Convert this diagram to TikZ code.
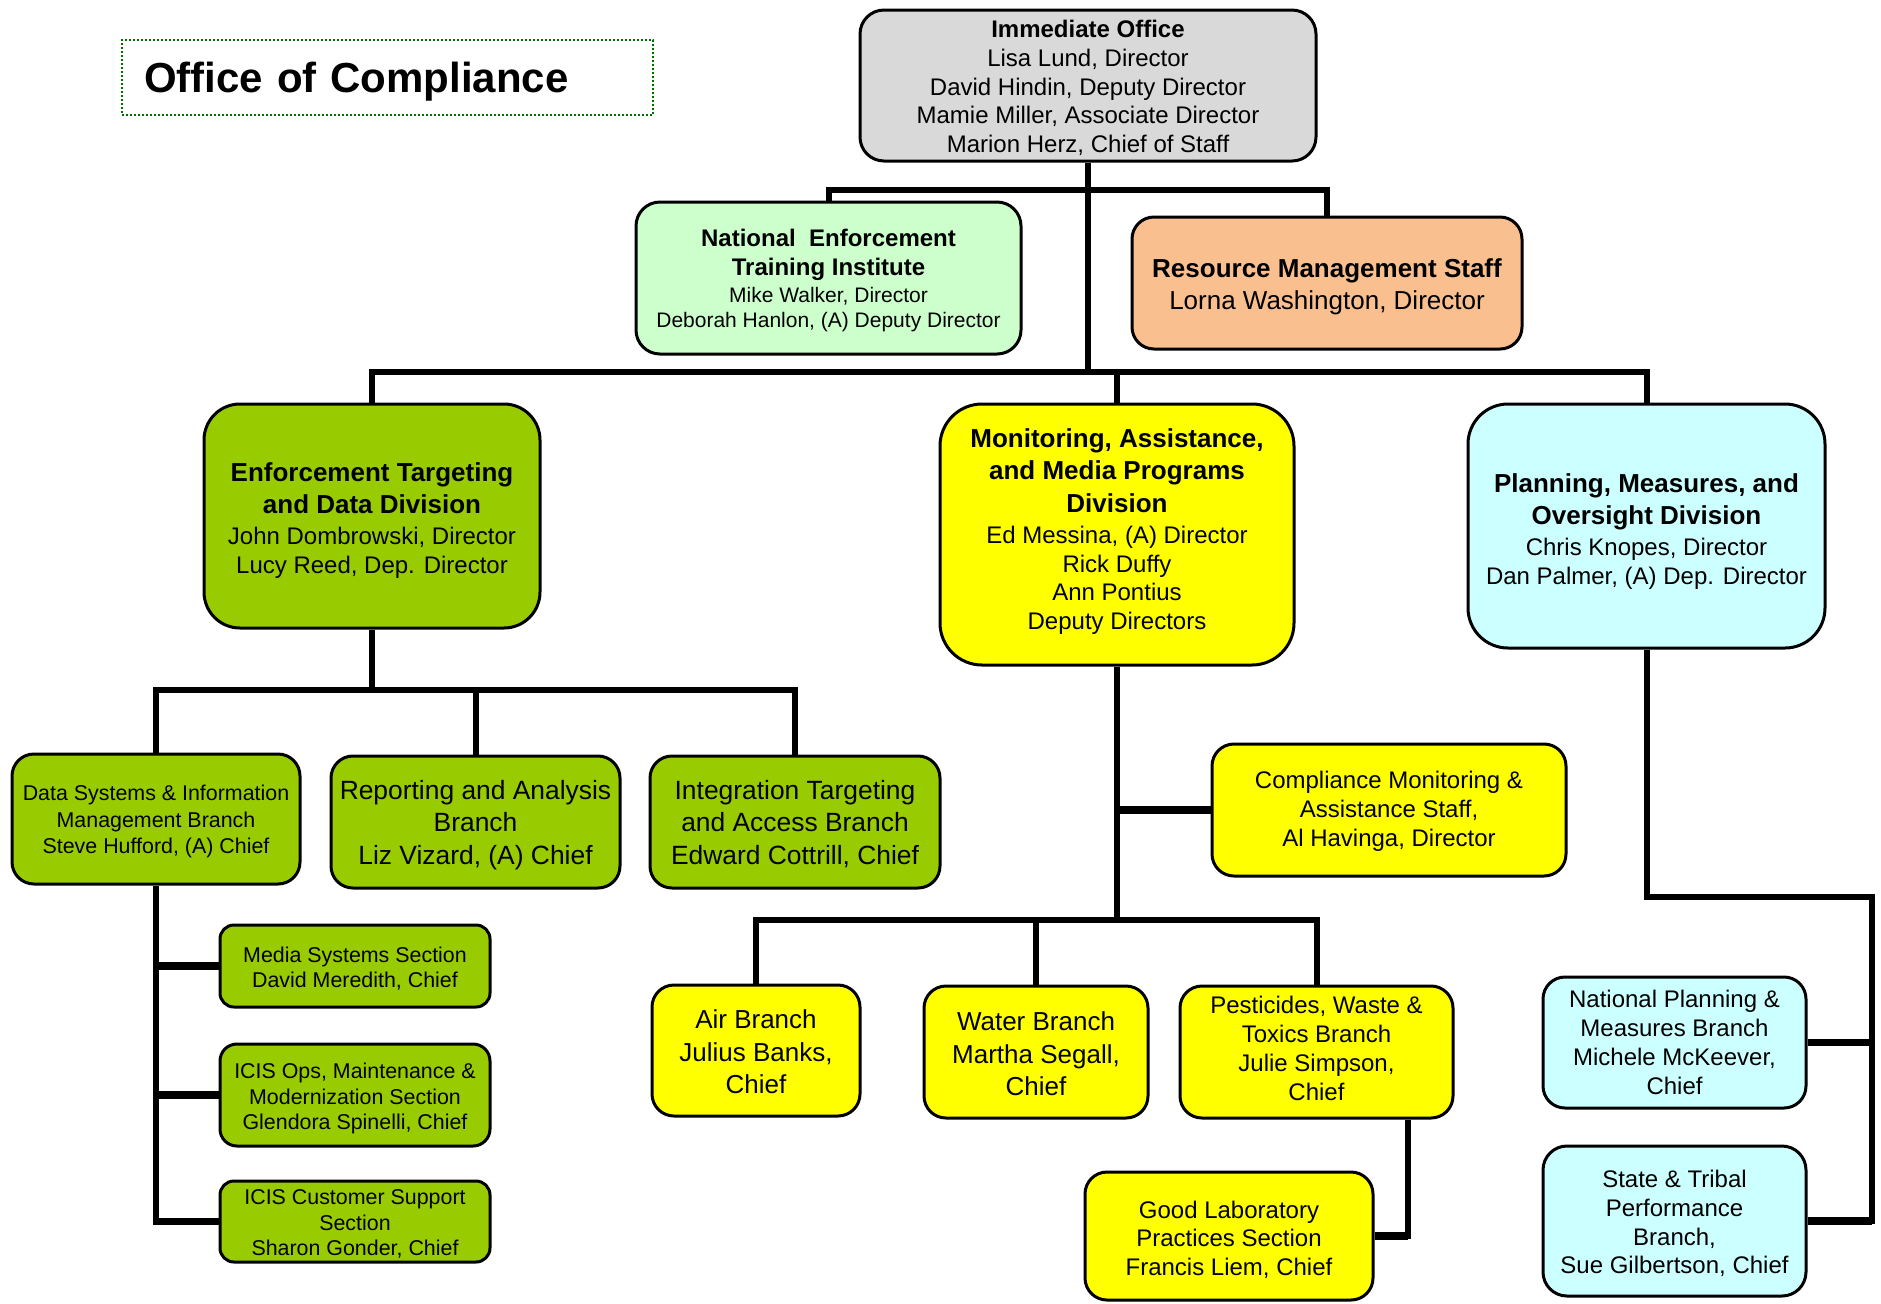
\documentclass[tikz,border=0pt]{standalone}
\usepackage{fontspec}
\setmainfont{Liberation Sans}
\definecolor{iogray}{RGB}{217,217,217}
\definecolor{neetigreen}{RGB}{204,255,204}
\definecolor{rmsorange}{RGB}{250,191,143}
\definecolor{divgreen}{RGB}{153,204,0}
\definecolor{divyellow}{RGB}{255,255,0}
\definecolor{divcyan}{RGB}{204,255,255}
\definecolor{titlegreen}{RGB}{0,110,0}
\newcommand\tdn[1]{\rule{0pt}{#1}}
\newcommand\tup[1]{\rule[-#1]{0pt}{0pt}}
\tikzset{
  box/.style={draw=black, line width=1.5pt, align=center, inner sep=0pt},
  conn/.style={line width=3pt},
  stub/.style={line width=3.75pt},
  fA/.style={font=\fontsize{12}{14.4}\selectfont},
  fB/.style={font=\fontsize{13}{15.6}\selectfont},
  fC/.style={font=\fontsize{13.2}{16.2}\selectfont},
  fD/.style={font=\fontsize{10.7}{13.2}\selectfont},
  fE/.style={font=\fontsize{10.7}{12.8}\selectfont},
}
\begin{document}
\begin{tikzpicture}[x=0.5pt, y=-0.5pt]
\fill[white] (0,0) rectangle (1881,1303);
\useasboundingbox (0,0) rectangle (1881,1303);

% title
\node[draw=titlegreen, line width=1.2pt, dash pattern=on 1pt off 1pt, minimum width=265.5pt, minimum height=37.5pt, text width=243.5pt, inner xsep=11pt, inner ysep=0pt, align=left, font=\fontsize{21}{25}\selectfont\bfseries] (title) at (387.5,77.5) {\tdn{18.9pt}Office of Compliance};

% top level
\node[box, fill=iogray, minimum width=228pt, minimum height=75.5pt, rounded corners=12pt, fA] (io) at (1088,85.5)
 {\tdn{11.2pt}\textbf{Immediate Office}\\Lisa Lund, Director\\David Hindin, Deputy Director\\Mamie Miller, Associate Director\\Marion Herz, Chief of Staff};

\node[box, fill=neetigreen, minimum width=192.5pt, minimum height=76pt, rounded corners=12pt, fA] (neeti) at (828.5,278)
 {\tdn{11.2pt}{\bfseries National\ \ Enforcement}\\{\bfseries Training Institute}\\[-1pt]{\fontsize{10.5}{12.6}\selectfont Mike Walker, Director}\\[-1.8pt]{\fontsize{10.5}{12.6}\selectfont Deborah Hanlon, (A) Deputy Director}};

\node[box, fill=rmsorange, minimum width=195pt, minimum height=66pt, rounded corners=11pt, font=\fontsize{13}{16.2}\selectfont] (rms) at (1327,283)
 {\tdn{13.1pt}{\bfseries Resource Management Staff}\\Lorna Washington, Director};

% divisions
\node[box, fill=divgreen, minimum width=168pt, minimum height=112pt, rounded corners=18pt, fB] (etdd) at (372,516)
 {\tdn{13.7pt}{\bfseries Enforcement Targeting}\\[0.6pt]{\bfseries and Data Division}\\{\fontsize{12}{14.4}\selectfont John Dombrowski, Director}\\[-1.2pt]{\fontsize{12}{14.4}\selectfont Lucy Reed, Dep. Director}};

\node[box, fill=divyellow, minimum width=177pt, minimum height=130.5pt, rounded corners=21pt, fB] (mamp) at (1117,534.5)
 {{\bfseries Monitoring, Assistance,}\\[0.6pt]{\bfseries and Media Programs}\\[0.6pt]{\bfseries Division}\\{\fontsize{12}{14.4}\selectfont Ed Messina, (A) Director}\\[-1.2pt]{\fontsize{12}{14.4}\selectfont Rick Duffy}\\[-1.2pt]{\fontsize{12}{14.4}\selectfont Ann Pontius}\\[-1.2pt]{\fontsize{12}{14.4}\selectfont Deputy Directors\tup{5.5pt}}};

\node[box, fill=divcyan, minimum width=178.5pt, minimum height=122pt, rounded corners=20pt, fB] (pmod) at (1646.5,526)
 {\tdn{14.9pt}{\bfseries Planning, Measures, and}\\[0.6pt]{\bfseries Oversight Division}\\{\fontsize{12}{14.4}\selectfont Chris Knopes, Director}\\[-1.2pt]{\fontsize{12}{14.4}\selectfont Dan Palmer, (A) Dep. Director}};

% ETDD branches
\node[box, fill=divgreen, minimum width=144pt, minimum height=65pt, rounded corners=11pt, fD] (ds) at (156,819)
 {\tdn{10.2pt}Data Systems \& Information\\Management Branch\\Steve Hufford, (A) Chief};
\node[box, fill=divgreen, minimum width=144.5pt, minimum height=66pt, rounded corners=11pt, fC] (rep) at (475.5,822)
 {\tdn{12.6pt}Reporting and Analysis\\Branch\\Liz Vizard, (A) Chief};
\node[box, fill=divgreen, minimum width=145pt, minimum height=66pt, rounded corners=11pt, fC] (integ) at (795,822)
 {\tdn{11.4pt}Integration Targeting\\and Access Branch\\Edward Cottrill, Chief};

% sections
\node[box, fill=divgreen, minimum width=135pt, minimum height=41pt, rounded corners=7pt, fE] (ms) at (355,966)
 {\tdn{10.2pt}Media Systems Section\\David Meredith, Chief};
\node[box, fill=divgreen, minimum width=135pt, minimum height=51pt, rounded corners=8.5pt, fE] (icisops) at (355,1095)
 {\tdn{11.4pt}ICIS Ops, Maintenance \&\\Modernization Section\\Glendora Spinelli, Chief};
\node[box, fill=divgreen, minimum width=135pt, minimum height=40.5pt, rounded corners=7pt, fE] (iciscs) at (355,1221.5)
 {\tdn{10.2pt}ICIS Customer Support\\Section\\Sharon Gonder, Chief};

% MAMP branches
\node[box, fill=divyellow, minimum width=177pt, minimum height=66pt, rounded corners=11pt, fA] (cms) at (1389,810)
 {\tdn{10pt}Compliance Monitoring \&\\Assistance Staff,\\Al Havinga, Director};
\node[box, fill=divyellow, minimum width=104pt, minimum height=65.5pt, rounded corners=11pt, font=\fontsize{13}{16.2}\selectfont] (air) at (756,1050.5)
 {\tdn{10.7pt}Air Branch\\Julius Banks,\\Chief};
\node[box, fill=divyellow, minimum width=112pt, minimum height=66pt, rounded corners=11pt, font=\fontsize{13}{16.2}\selectfont] (water) at (1036,1052)
 {\tdn{11.3pt}Water Branch\\Martha Segall,\\Chief};
\node[box, fill=divyellow, minimum width=136.5pt, minimum height=66pt, rounded corners=11pt, fA] (pest) at (1316.5,1052)
 {Pesticides, Waste \&\\Toxics Branch\\Julie Simpson,\\Chief\tup{3.6pt}};
\node[box, fill=divyellow, minimum width=144pt, minimum height=64pt, rounded corners=11pt, fA] (glp) at (1229,1236)
 {\tdn{12.4pt}Good Laboratory\\Practices Section\\Francis Liem, Chief};

% PMOD branches
\node[box, fill=divcyan, minimum width=131.5pt, minimum height=65.5pt, rounded corners=11pt, fA] (npm) at (1674.5,1042.5)
 {National Planning \&\\Measures Branch\\Michele McKeever,\\Chief};
\node[box, fill=divcyan, minimum width=131.5pt, minimum height=75pt, rounded corners=12pt, fA] (stp) at (1674.5,1221)
 {\tdn{11.2pt}State \& Tribal\\Performance\\Branch,\\Sue Gilbertson, Chief};

% junction coordinates
\coordinate (j1) at (1088,190);
\coordinate (j2) at (1088,372);
\coordinate (j3) at (372,690);
\coordinate (j4) at (1117,920);
\coordinate (j5) at (1408,1118);
\coordinate (j6) at (1872,897);

% connectors
\draw[conn] (io.south) -- (j2);
\draw[conn] (neeti.north) |- (j1) -| (rms.north);
\draw[conn] (etdd.north) |- (j2) -| (pmod.north);
\draw[conn] (mamp.north) -- (mamp.north |- j2);

\draw[conn] (etdd.south) -- (j3);
\draw[conn] (ds.north) |- (j3) -| (integ.north);
\draw[conn] (rep.north) -- (rep.north |- j3);

\draw[conn] (ds.south) |- (iciscs.west);
\draw[stub] (ds.south |- ms.west) -- (ms.west);
\draw[stub] (ds.south |- icisops.west) -- (icisops.west);
\draw[stub] (ds.south |- iciscs.west) -- (iciscs.west);

\draw[conn] (mamp.south) -- (j4);
\draw[stub] (mamp.south |- cms.west) -- (cms.west);
\draw[conn] (air.north) |- (j4) -| (pest.north);
\draw[conn] (water.north) -- (water.north |- j4);

\draw[conn] (pest.south -| j5) |- (glp.east);
\draw[stub] (glp.east -| j5) -- (glp.east);

\draw[conn] (pmod.south) |- (j6) |- (stp.east);
\draw[stub] (j6 |- npm.east) -- (npm.east);
\draw[stub] (j6 |- stp.east) -- (stp.east);
\end{tikzpicture}
\end{document}
